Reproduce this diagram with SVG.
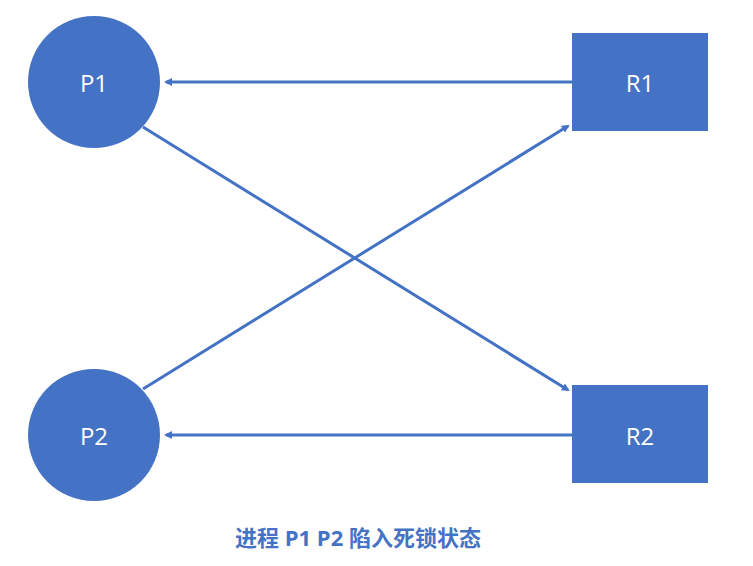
<svg xmlns="http://www.w3.org/2000/svg" width="753" height="566" viewBox="0 0 753 566">
<style>
.n{fill:#4472C4}
.t{fill:#fff;font-family:"Open Sans","Liberation Sans",sans-serif;font-size:24px;text-anchor:middle;dominant-baseline:central}
.c{stroke:#4472C4;stroke-width:3;fill:none;marker-end:url(#a)}
</style>
<defs><marker id="a" markerWidth="8" markerHeight="8" refX="6" refY="4" orient="auto" markerUnits="userSpaceOnUse"><path d="M0,0 L8,4 L0,8 Z" fill="#4472C4"/></marker></defs>
<rect width="753" height="566" fill="#fff"/>
<g id="P1"><circle class="n" cx="94" cy="82" r="66"/><text class="t" x="94" y="82">P1</text></g>
<g id="P2"><circle class="n" cx="94" cy="435" r="66"/><text class="t" x="94" y="435">P2</text></g>
<g id="R1"><rect class="n" x="572" y="33" width="136" height="98"/><text class="t" x="640" y="82">R1</text></g>
<g id="R2"><rect class="n" x="572" y="385" width="136" height="98"/><text class="t" x="640" y="435">R2</text></g>
<g id="connectors">
<line class="c" x1="572" y1="82" x2="166" y2="82"/>
<line class="c" x1="143" y1="127" x2="568" y2="390"/>
<line class="c" x1="143" y1="389" x2="568" y2="126"/>
<line class="c" x1="572" y1="435" x2="166" y2="435"/>
</g>
<text x="358" y="537" fill="#4472C4" font-family="'Open Sans','Noto Sans CJK SC',sans-serif" font-size="22" font-weight="bold" text-anchor="middle" dominant-baseline="central">进程 P1 P2 陷入死锁状态</text>
</svg>
